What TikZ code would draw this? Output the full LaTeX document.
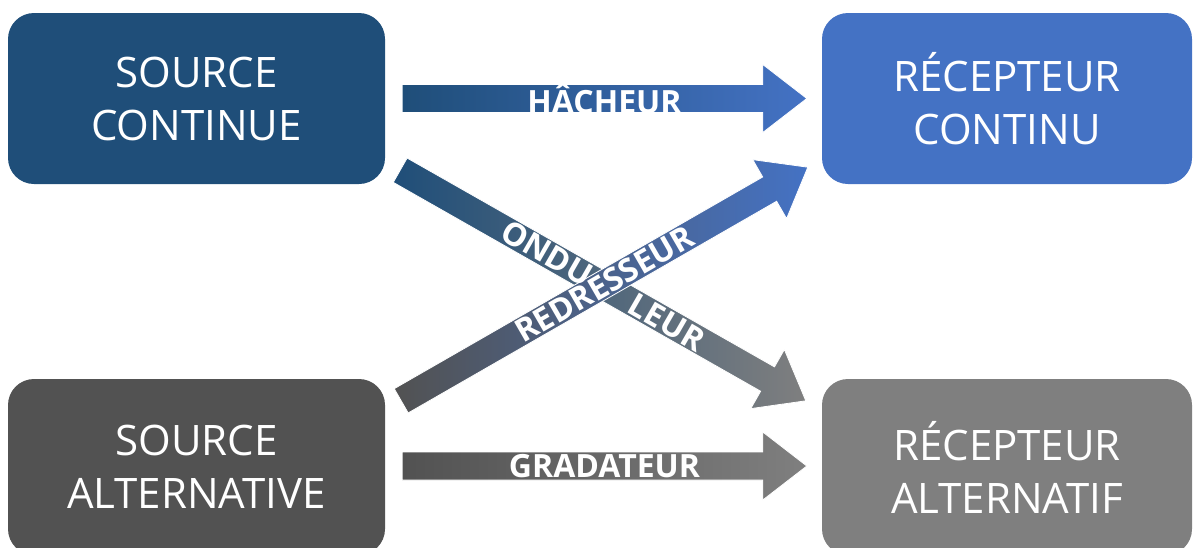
\documentclass[tikz,border=0pt]{standalone}
\usepackage{fontspec}
\setmainfont{Open Sans}
\usetikzlibrary{calc}

\definecolor{bleufonce}{HTML}{1F4E79}
\definecolor{bleuclair}{HTML}{4472C4}
\definecolor{grisfonce}{HTML}{525252}
\definecolor{grisclair}{HTML}{7F7F7F}

\tikzset{
  bloc/.style={rounded corners=26pt, minimum width=377pt, minimum height=171pt,
    inner sep=0pt, text=white, align=center,
    font=\fontsize{42}{53}\selectfont},
  etiq/.style={text=white, inner sep=0pt, font=\fontsize{32}{32}\selectfont\bfseries}
}

% grosse fleche pleine de #1 vers #2, degrade de #3 a #4
\newcommand\fleche[4]{%
  \coordinate (h) at ($(#2)!44pt!(#1)$);
  \shade[left color=#3, right color=#4, draw=white, line width=0.8pt]
    ($(#1)!14pt!90:(#2)$) -- ($(h)!14pt!90:(#2)$) -- ($(h)!34pt!90:(#2)$)
    -- (#2) -- ($(h)!34pt!-90:(#2)$) -- ($(h)!14pt!-90:(#2)$)
    -- ($(#1)!14pt!-90:(#2)$) -- cycle;
}

\begin{document}
\begin{tikzpicture}[x=1pt, y=-1pt]
  \useasboundingbox (0,0) rectangle (1193,547);
  \clip (0,0) rectangle (1193,547);

  % les quatre blocs
  \node[bloc, fill=bleufonce] (sc) at (196.5,98.5) {SOURCE\\CONTINUE};
  \node[bloc, fill=bleuclair, minimum width=370pt] (rc) at (1007,98.5) {RÉCEPTEUR\\CONTINU};
  \node[bloc, fill=grisfonce, minimum height=176pt] (sa) at (196.5,467) {SOURCE\\ALTERNATIVE};
  \node[bloc, fill=grisclair, minimum width=370pt, minimum height=176pt] (ra) at (1007,467) {RÉCEPTEUR\\ALTERNATIF};

  % extremites des convertisseurs
  \coordinate (hachA) at ($(sc.east)+(17,0)$);
  \coordinate (hachB) at ($(rc.west)+(-15,0)$);
  \coordinate (gradA) at ($(sa.east)+(17,-1)$);
  \coordinate (gradB) at ($(ra.west)+(-15,-1)$);
  \coordinate (ondA) at ($(sc.south east)+(15,-14)$);
  \coordinate (ondB) at ($(ra.north west)+(-16,22)$);
  \coordinate (redA) at ($(sa.north east)+(16,22)$);
  \coordinate (redB) at ($(rc.south west)+(-14,-17)$);

  \fleche{hachA}{hachB}{bleufonce}{bleuclair}
  \fleche{gradA}{gradB}{grisfonce}{grisclair}
  \fleche{ondA}{ondB}{bleufonce}{grisclair}
  \fleche{redA}{redB}{grisfonce}{bleuclair}

  \node[etiq] (lhach) at ($(hachA)!0.5!(hachB)$) {HÂCHEUR};
  \node[etiq] (lgrad) at ($(gradA)!0.5!(gradB)$) {GRADATEUR};
  \node[etiq, rotate=-30] (lond) at ($(ondA)!0.5!(ondB)$) {ONDU\hspace{48pt}LEUR};
  \node[etiq, rotate=30] (lred) at ($(redA)!0.5!(redB)$) {REDRESSEUR};
\end{tikzpicture}
\end{document}
